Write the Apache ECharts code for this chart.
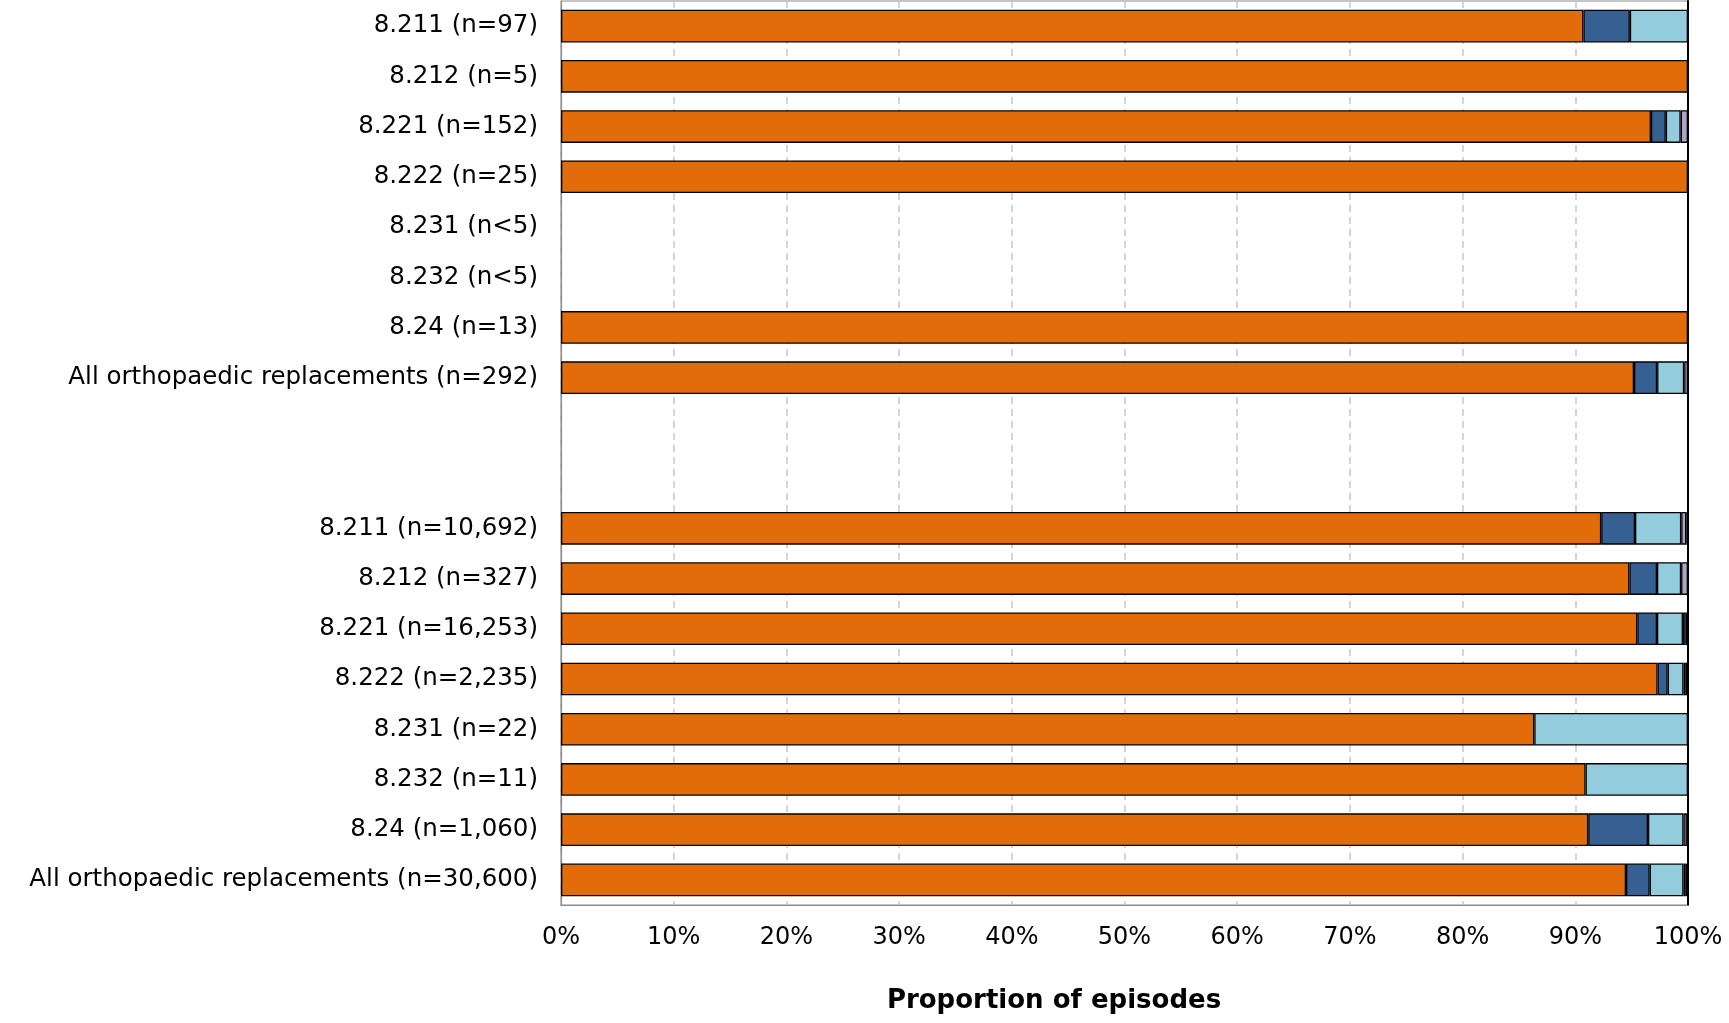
<!DOCTYPE html>
<html>
<head>
<meta charset="utf-8">
<script src="https://cdn.jsdelivr.net/npm/echarts@6/dist/echarts.min.js"></script>
<style>html,body{margin:0;padding:0;background:#fff}#c{width:1729px;height:1023px}</style>
</head>
<body>
<div id="c"></div>
<script>
const categories = [
  '8.211 (n=97)', '8.212 (n=5)', '8.221 (n=152)', '8.222 (n=25)',
  '8.231 (n<5)', '8.232 (n<5)', '8.24 (n=13)', 'All orthopaedic replacements (n=292)',
  ' ', '  ',
  '8.211 (n=10,692)', '8.212 (n=327)', '8.221 (n=16,253)', '8.222 (n=2,235)',
  '8.231 (n=22)', '8.232 (n=11)', '8.24 (n=1,060)', 'All orthopaedic replacements (n=30,600)'
];
const seriesOrange    = [90.72, 100, 96.71, 100, 0, 0, 100, 95.21, 0, 0, 92.3, 94.8, 95.5, 97.3, 86.36, 90.91, 91.15, 94.5];
const seriesDarkBlue  = [4.12, 0, 1.32, 0, 0, 0, 0, 2.05, 0, 0, 3.0, 2.45, 1.75, 0.9, 0, 0, 5.3, 2.1];
const seriesLightBlue = [5.16, 0, 1.32, 0, 0, 0, 0, 2.40, 0, 0, 4.1, 2.14, 2.3, 1.4, 13.64, 9.09, 3.15, 3.0];
const seriesPurple    = [0, 0, 0.65, 0, 0, 0, 0, 0.34, 0, 0, 0.45, 0.61, 0.25, 0.2, 0, 0, 0.3, 0.2];
const seriesOther     = [0, 0, 0, 0, 0, 0, 0, 0, 0, 0, 0.15, 0, 0.2, 0.2, 0, 0, 0.1, 0.2];
const xTicks = [0, 10, 20, 30, 40, 50, 60, 70, 80, 90, 100];

const FONT = 'DejaVu Sans';
const chart = echarts.init(document.getElementById('c'), null, {renderer: 'canvas'});
function mk(name, data, color) {
  return {
    name: name, type: 'bar', stack: 's', data: data.map(v => v === 0 ? null : v),
    barWidth: '65%',
    itemStyle: {color: color, borderColor: '#000', borderWidth: 1.3},
    silent: true
  };
}
chart.setOption({
  animation: false,
  title: {
    text: 'Proportion of episodes', left: 1049, top: 983, textAlign: 'center',
    textStyle: {fontFamily: FONT, fontWeight: 'bold', fontSize: 26, color: '#000'}
  },
  grid: {left: 561, right: 41, top: 1, bottom: 118, show: true, borderColor: '#8c8c8c', borderWidth: 1.2},
  xAxis: {
    type: 'value', min: 0, max: 100, interval: 10,
    axisLabel: {formatter: v => v + '%', fontFamily: FONT, fontSize: 24, color: '#000', margin: 21},
    axisLine: {show: true, lineStyle: {color: '#8c8c8c', width: 1.2}},
    axisTick: {show: false},
    splitLine: {show: true, lineStyle: {color: '#c8c8c8', type: [7, 5], width: 1.5}}
  },
  yAxis: [{
    type: 'category', data: categories, inverse: true,
    axisLabel: {fontFamily: FONT, fontSize: 24.5, color: '#000', margin: 23},
    axisLine: {show: true, lineStyle: {color: '#8c8c8c', width: 1.2}},
    axisTick: {show: false}
  }, {
    type: 'category', data: categories, inverse: true, position: 'right',
    axisLabel: {show: false}, axisTick: {show: false},
    axisLine: {show: true, lineStyle: {color: '#000', width: 2}}
  }],
  series: [
    mk('Orange', seriesOrange, '#E36C0A'),
    mk('Dark blue', seriesDarkBlue, '#366092'),
    mk('Light blue', seriesLightBlue, '#93CDDD'),
    mk('Purple', seriesPurple, '#B3A2C7'),
    mk('Other', seriesOther, '#1a1a1a')
  ]
});
</script>
</body>
</html>
